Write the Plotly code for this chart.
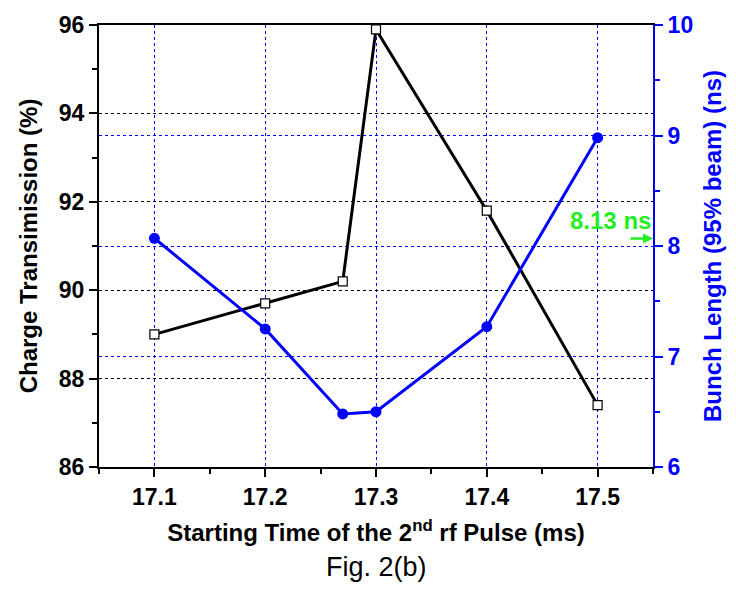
import plotly.graph_objects as go

x_time = [17.1, 17.2, 17.27, 17.3, 17.4, 17.5]
transmission = [89.0, 89.7, 90.2, 95.9, 91.8, 87.4]
bunch_length = [8.07, 7.25, 6.48, 6.50, 7.27, 8.98]

x_ticks = [17.1, 17.2, 17.3, 17.4, 17.5]
y1_ticks = [86, 88, 90, 92, 94, 96]
y2_ticks = [6, 7, 8, 9, 10]

FONT = "Liberation Sans, Arial, sans-serif"
BLUE = "#0000ff"
GREEN = "#22ee22"

fig = go.Figure()
fig.add_trace(go.Scatter(
    x=x_time, y=transmission, mode="lines+markers",
    line=dict(color="black", width=3),
    marker=dict(symbol="square", size=9, color="white", line=dict(color="black", width=1.2)),
    yaxis="y", showlegend=False))
fig.add_trace(go.Scatter(
    x=x_time, y=bunch_length, mode="lines+markers",
    line=dict(color=BLUE, width=3),
    marker=dict(symbol="circle", size=11, color=BLUE),
    yaxis="y2", showlegend=False))

fig.update_layout(
    width=736, height=590,
    margin=dict(l=99, r=83, t=20, b=123),
    plot_bgcolor="white", paper_bgcolor="white",
    font=dict(family=FONT, color="black"),
    xaxis=dict(
        range=[17.05, 17.55], tickvals=x_ticks, ticktext=[str(v) for v in x_ticks],
        showline=True, linecolor="black", linewidth=2, mirror=True,
        ticks="outside", ticklen=8, tickwidth=2, tickcolor="black",
        minor=dict(dtick=0.05, tick0=17.05, ticks="outside", ticklen=5, tickwidth=2, tickcolor="black", showgrid=False),
        showgrid=True, gridcolor=BLUE, griddash="dot", gridwidth=1,
        tickfont=dict(family=FONT, size=23, color="black", weight="bold"),
        title=dict(text="Starting Time of the 2<sup>nd</sup> rf Pulse (ms)",
                   font=dict(family=FONT, size=24, color="black", weight="bold"), standoff=16),
        zeroline=False),
    yaxis=dict(
        range=[86, 96], tickvals=y1_ticks,
        showline=True, linecolor="black", linewidth=2,
        ticks="outside", ticklen=8, tickwidth=2, tickcolor="black",
        minor=dict(dtick=1, ticks="outside", ticklen=5, tickwidth=2, tickcolor="black", showgrid=False),
        showgrid=True, gridcolor="black", griddash="dot", gridwidth=1,
        tickfont=dict(family=FONT, size=23, color="black", weight="bold"),
        title=dict(text="Charge Transimission (%)",
                   font=dict(family=FONT, size=24, color="black", weight="bold"), standoff=14),
        zeroline=False),
    yaxis2=dict(
        range=[6, 10], tickvals=y2_ticks, overlaying="y", side="right",
        showline=True, linecolor=BLUE, linewidth=2,
        ticks="outside", ticklen=8, tickwidth=2, tickcolor=BLUE,
        minor=dict(dtick=0.5, ticks="outside", ticklen=5, tickwidth=2, tickcolor=BLUE, showgrid=False),
        showgrid=True, gridcolor=BLUE, griddash="dot", gridwidth=1,
        tickfont=dict(family=FONT, size=23, color=BLUE, weight="bold"),
        title=dict(text="Bunch Length (95% beam) (ns)",
                   font=dict(family=FONT, size=24, color=BLUE, weight="bold"), standoff=12),
        zeroline=False),
)

fig.add_annotation(
    x=17.55, y=8.067, xref="x", yref="y2",
    ax=-24, ay=0, axref="pixel", ayref="pixel",
    showarrow=True, arrowhead=2, arrowsize=0.8, arrowwidth=2.5, arrowcolor=GREEN,
    text="")
fig.add_annotation(
    x=17.512, y=8.23, xref="x", yref="y2", showarrow=False,
    text="<b>8.13 ns</b>", font=dict(family=FONT, size=24, color=GREEN))
fig.add_annotation(
    x=0.5, y=-0.226, xref="paper", yref="paper", showarrow=False, yanchor="middle",
    text="Fig. 2(b)", font=dict(family=FONT, size=27, color="black"))

fig.write_html("out.html")
